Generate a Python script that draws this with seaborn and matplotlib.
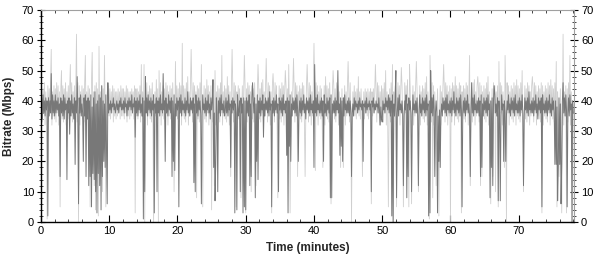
import numpy as np
import pandas as pd
import seaborn as sns
import matplotlib
matplotlib.use("Agg")
import matplotlib.pyplot as plt
from matplotlib.ticker import MultipleLocator

# Each row = one minute of samples (Mbps); row index = minute
light_rows = [
    [34,45,33,44,36,46,32,43,35,1],
    [45,33,44,36,47,57,32,43,35,45],
    [34,44,33,46,36,45,32,43,5,44],
    [50,34,45,33,44,36,46,32,43,35],
    [45,34,44,52,36,46,33,43,35,45],
    [34,44,62,33,46,0,45,32,43,35],
    [45,34,44,33,46,55,32,43,35,45],
    [34,44,5,33,46,56,32,43,12,45],
    [4,46,33,44,2,58,32,43,35,45],
    [10,44,33,55,36,5,32,43,35,45],
    [35,44,34,43,36,45,33,44,35,43],
    [34,43,35,44,36,43,34,45,35,44],
    [35,44,34,43,36,45,33,44,35,43],
    [34,43,35,44,36,43,34,45,3,44],
    [35,44,34,43,36,45,33,52,35,43],
    [34,52,0,44,36,46,32,43,35,45],
    [34,44,33,46,36,0,32,43,35,47],
    [34,44,0,50,36,46,32,43,35,45],
    [34,44,33,46,36,45,32,43,35,45],
    [34,44,33,46,36,10,32,53,35,45],
    [34,44,33,46,36,45,32,59,35,45],
    [34,44,33,46,36,48,32,43,35,45],
    [57,44,33,46,36,45,32,43,8,45],
    [34,44,33,46,36,52,32,5,35,45],
    [34,44,33,47,36,45,32,43,35,45],
    [4,44,33,46,12,50,32,43,35,45],
    [34,44,33,46,36,55,32,43,35,45],
    [34,44,33,48,36,45,32,43,15,45],
    [57,44,33,46,36,45,5,43,35,45],
    [34,44,33,8,36,45,32,43,55,45],
    [3,44,33,46,36,45,32,43,10,45],
    [34,44,33,46,36,12,32,43,52,45],
    [34,44,33,46,36,47,32,43,35,45],
    [54,44,33,46,36,45,32,43,3,45],
    [49,44,33,46,36,45,32,8,35,45],
    [34,44,33,46,36,45,32,43,50,45],
    [34,44,33,52,36,3,32,43,35,45],
    [54,44,33,46,36,45,15,43,35,45],
    [34,44,33,46,36,45,32,15,35,45],
    [52,44,33,46,36,45,32,43,35,45],
    [59,44,17,46,36,45,32,43,35,45],
    [34,44,33,18,36,45,32,48,35,45],
    [34,44,33,46,36,6,32,43,50,45],
    [34,44,33,46,36,45,32,43,35,18],
    [34,44,33,18,36,45,32,43,35,45],
    [53,44,33,46,36,0,32,43,35,45],
    [35,43,34,44,36,48,35,43,34,44],
    [36,15,35,43,34,44,36,43,35,44],
    [34,43,36,44,6,43,35,44,36,43],
    [52,44,33,46,36,45,32,43,35,45],
    [34,44,33,46,36,50,32,43,35,5],
    [34,44,33,46,36,52,0,43,35,45],
    [34,5,33,46,36,45,32,43,51,45],
    [34,5,33,46,36,45,32,47,35,5],
    [52,44,33,6,36,45,32,43,35,45],
    [53,44,33,10,36,45,32,43,35,45],
    [34,44,33,46,36,48,32,43,35,1],
    [55,44,33,46,8,45,32,43,35,12],
    [34,44,33,2,36,45,32,43,35,45],
    [52,44,33,46,36,45,32,43,35,45],
    [0,44,33,46,36,45,32,48,35,45],
    [34,44,33,46,36,45,3,43,35,45],
    [34,44,33,46,36,45,32,43,55,12],
    [34,44,33,46,36,47,32,43,35,45],
    [48,44,33,46,12,45,15,43,35,45],
    [34,44,33,46,36,48,32,43,35,6],
    [34,44,15,46,36,45,10,43,35,45],
    [5,53,33,46,36,45,32,43,35,18],
    [55,44,0,46,36,45,32,43,35,45],
    [34,44,33,46,36,45,32,47,35,45],
    [34,44,33,46,36,50,32,10,35,45],
    [34,44,33,46,36,45,32,43,35,45],
    [48,44,33,46,36,45,32,43,35,45],
    [34,44,33,46,3,45,32,43,35,45],
    [34,44,33,46,36,45,32,47,35,45],
    [34,44,33,46,36,53,5,43,35,15],
    [34,44,33,3,36,62,32,43,35,45],
    [3,44,33,46,36,55,32,43,35,0],
    [36],
]

dark_rows = [
    [37,41,34,42,36,40,35,41,37,40],
    [2,41,35,40,36,49,34,42,36,40],
    [35,42,36,40,37,41,35,39,15,41],
    [36,40,35,42,34,41,37,39,14,40],
    [36,41,29,40,35,42,36,39,34,41],
    [19,40,36,48,35,6,41,36,42,35],
    [39,36,20,41,35,42,15,40,34,41],
    [12,40,15,42,5,38,16,41,14,43],
    [10,39,3,40,16,42,12,41,4,45],
    [15,40,20,39,18,42,25,6,46,36],
    [39,37,40,36,39,38,41,37,39,36],
    [38,40,37,39,36,40,38,41,37,39],
    [37,40,36,41,38,39,35,40,37,41],
    [38,40,37,42,36,39,38,41,28,40],
    [36,41,35,40,37,42,36,39,35,41],
    [1,40,10,48,36,41,35,42,37,40],
    [36,41,35,40,37,42,3,39,36,41],
    [10,40,36,41,35,42,37,39,36,49],
    [37,40,20,41,36,39,35,42,37,40],
    [36,41,15,40,20,42,17,39,35,41],
    [37,40,5,41,36,42,35,40,37,39],
    [36,41,35,40,37,43,36,39,35,41],
    [37,40,36,41,13,39,10,42,36,40],
    [35,41,37,40,36,6,35,42,37,39],
    [36,41,35,40,37,42,36,39,34,41],
    [37,40,47,18,36,7,19,41,36,10],
    [40,36,41,35,42,37,39,36,40,35],
    [37,41,36,40,35,42,37,39,18,40],
    [36,41,37,40,3,39,36,4,42,35],
    [37,40,10,41,36,39,3,41,5,40],
    [4,41,36,40,35,42,12,39,15,41],
    [46,40,36,41,8,39,20,42,14,40],
    [36,41,35,40,37,42,28,39,35,41],
    [37,40,36,41,35,43,37,39,5,40],
    [36,41,35,40,37,42,36,39,10,41],
    [37,40,36,41,35,42,37,39,36,40],
    [22,41,3,40,25,42,20,39,35,41],
    [37,40,36,41,35,42,37,20,36,40],
    [36,41,35,40,37,42,36,39,34,41],
    [37,40,36,41,35,42,37,39,36,40],
    [18,52,36,41,35,42,37,39,36,40],
    [36,41,35,40,20,42,36,39,35,41],
    [37,40,36,41,8,42,8,39,36,40],
    [36,41,35,40,37,50,36,39,22,41],
    [25,40,20,41,35,42,37,39,36,40],
    [36,41,35,40,37,15,36,39,35,41],
    [37,40,38,39,36,40,37,41,38,39],
    [37,40,20,39,38,40,36,41,37,39],
    [38,40,37,39,10,40,38,41,36,39],
    [37,40,38,39,36,41,37,32,38,34],
    [33,40,37,39,36,41,38,40,37,42],
    [36,41,35,40,2,42,0,39,35,41],
    [50,8,36,41,35,42,37,39,36,40],
    [36,12,35,40,37,42,8,39,15,41],
    [37,40,36,10,35,42,37,39,36,40],
    [36,41,35,12,37,42,36,39,35,41],
    [37,40,36,41,35,42,37,39,2,40],
    [3,50,36,41,35,42,37,15,36,40],
    [36,3,35,20,37,18,36,39,35,41],
    [37,40,36,41,35,42,37,39,36,40],
    [36,41,35,40,37,43,36,39,35,41],
    [37,40,36,41,35,42,37,5,36,40],
    [36,41,35,40,37,42,36,39,35,15],
    [37,46,36,41,35,42,37,39,36,40],
    [36,41,35,40,15,42,18,39,35,41],
    [37,40,36,41,35,42,37,39,8,40],
    [18,41,12,40,45,42,36,39,35,41],
    [7,40,36,7,35,42,37,39,20,40],
    [36,20,35,40,37,42,36,39,35,41],
    [37,40,36,41,35,42,37,39,36,40],
    [36,41,35,40,37,42,36,12,35,41],
    [37,40,36,41,35,43,37,39,36,40],
    [36,41,35,40,37,42,36,39,34,41],
    [37,40,36,41,5,42,37,39,36,40],
    [36,41,35,40,37,42,36,39,35,41],
    [37,40,36,19,40,19,38,7,19,41],
    [19,39,6,19,40,46,36,41,35,42],
    [37,5,36,41,35,42,37,39,0,40],
    [36],
]

x_ticks = [0, 10, 20, 30, 40, 50, 60, 70]
y_ticks = [0, 10, 20, 30, 40, 50, 60, 70]


def to_frame(rows):
    t, v = [], []
    for minute, row in enumerate(rows):
        for k, val in enumerate(row):
            t.append(minute + k / len(row))
            v.append(val)
    return pd.DataFrame({"t": t, "mbps": v})


light_df = to_frame(light_rows)
dark_df = to_frame(dark_rows)

sns.set_style("white")
plt.rcParams["font.family"] = ["Liberation Sans", "DejaVu Sans"]

fig = plt.figure(figsize=(6.0, 2.61), dpi=100)
ax = fig.add_axes([41 / 600, 1 - 222 / 261, (574 - 41) / 600, 212 / 261])

sns.lineplot(data=light_df, x="t", y="mbps", ax=ax, color="#cfcfcf", linewidth=0.6,
             estimator=None, errorbar=None)
sns.lineplot(data=dark_df, x="t", y="mbps", ax=ax, color="#787878", linewidth=0.7,
             estimator=None, errorbar=None)

ax.set_xlim(0, 78.1)
ax.set_ylim(0, 70)
ax.set_xticks(x_ticks)
ax.set_yticks(y_ticks)
ax.xaxis.set_minor_locator(MultipleLocator(2))
ax.yaxis.set_minor_locator(MultipleLocator(2))

ax.tick_params(axis="x", which="major", direction="in", length=5, width=0.8,
               top=True, bottom=True, labelsize=8, pad=3, colors="black")
ax.tick_params(axis="x", which="minor", direction="in", length=2.5, width=0.6,
               top=True, bottom=True)
ax.tick_params(axis="y", which="major", direction="inout", length=6, width=0.8,
               left=True, right=True, labelleft=True, labelright=True,
               labelsize=8, pad=2, colors="black")
ax.tick_params(axis="y", which="minor", direction="inout", length=3, width=0.6,
               left=True, right=True)

for side in ("left", "bottom"):
    ax.spines[side].set_color("black")
    ax.spines[side].set_linewidth(1.0)
for side in ("top", "right"):
    ax.spines[side].set_color("#a0a0a0")
    ax.spines[side].set_linewidth(0.8)

ax.set_xlabel("Time (minutes)", fontsize=8.5, fontweight="bold", labelpad=4)
ax.set_ylabel("Bitrate (Mbps)", fontsize=8.5, fontweight="bold", labelpad=5)

fig.savefig("out.png", dpi=100)
